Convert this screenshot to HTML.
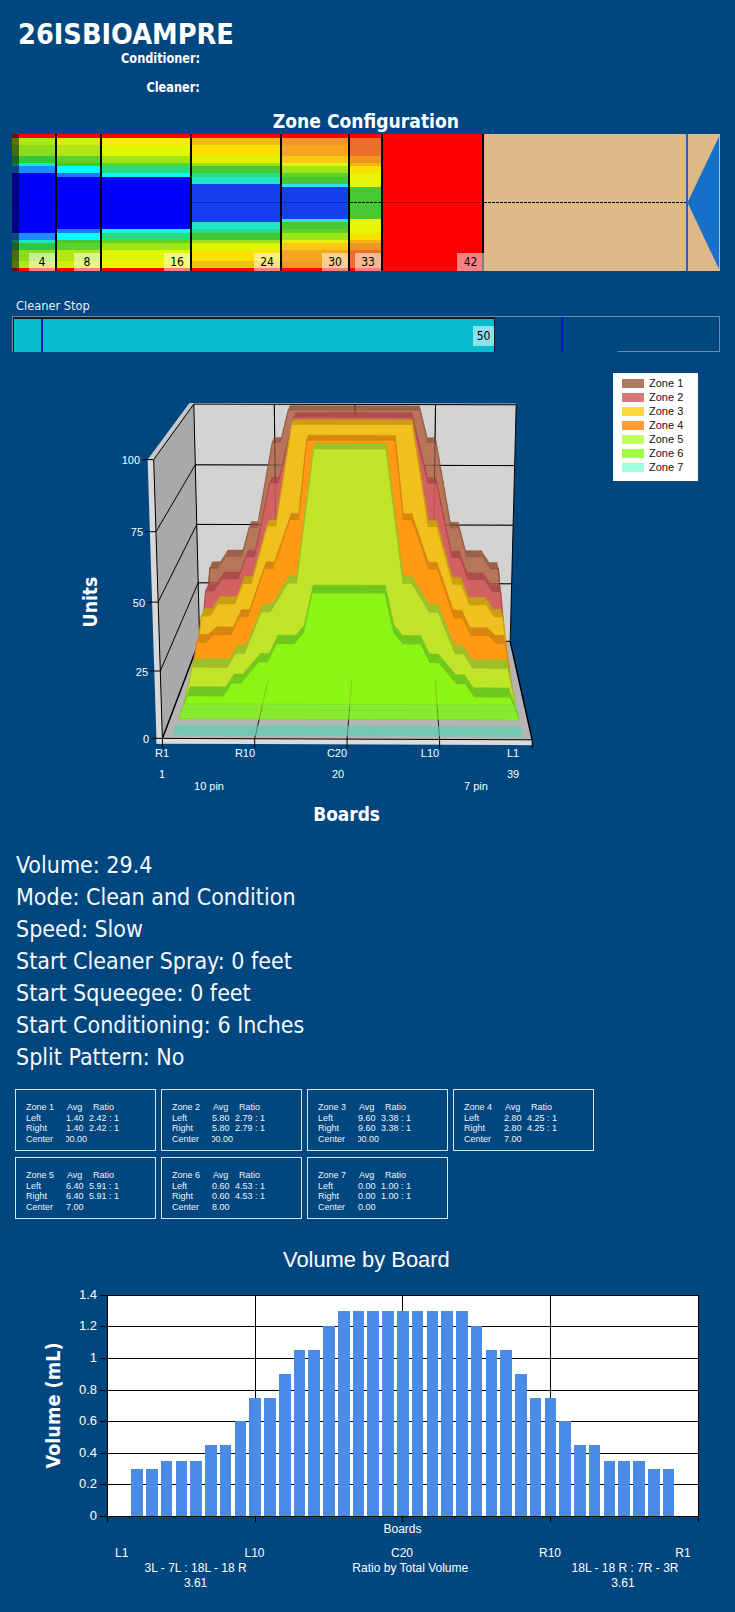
<!DOCTYPE html>
<html><head><meta charset="utf-8"><style>
html,body{margin:0;padding:0;background:#00467f;}
body{width:735px;height:1612px;position:relative;overflow:hidden;color:#fff;}
.t{position:absolute;white-space:nowrap;}
.tah{font-family:"DejaVu Sans Condensed","DejaVu Sans",sans-serif;font-stretch:condensed;}
.ar{font-family:"Liberation Sans",Arial,sans-serif;}
.hl{position:absolute;top:253px;width:26px;height:18px;background:rgba(255,255,255,0.5);color:#000;font:12px "DejaVu Sans Condensed","DejaVu Sans",sans-serif;font-stretch:condensed;line-height:19px;text-align:center;}
.yl{position:absolute;left:40px;width:57px;text-align:right;font:13px "Liberation Sans",sans-serif;line-height:16px;color:#fff;}
.yl3{position:absolute;width:40px;text-align:right;font:11.8px "Liberation Sans",sans-serif;line-height:14px;color:#fff;transform:scaleX(0.93);transform-origin:100% 50%;}
.zt{position:absolute;width:139px;height:60px;border:1px solid #d8e4f0;font:9px "Liberation Sans",sans-serif;color:#eef4fa;}
.zt .ln{position:absolute;left:0;width:139px;height:10.1px;overflow:hidden;line-height:11px;}
.zt span{position:absolute;top:0;}
.c0{left:10px} .c1{left:51px} .c2{left:77px} .v1{left:50px} .v2{left:73px}
.clipv{left:50px;width:22px;height:11px;overflow:hidden;}
.clipv span{right:1px;}
.info{position:absolute;left:16px;font:23px "DejaVu Sans Condensed","DejaVu Sans",sans-serif;font-stretch:condensed;color:#f4f8fc;line-height:32px;white-space:nowrap;}
</style></head><body>
<div class="t tah" style="left:18px;top:16.3px;font-size:28.6px;font-weight:bold;line-height:36px">26ISBIOAMPRE</div>
<div class="t tah" style="right:535.3px;top:50px;font-size:13.4px;font-weight:bold;line-height:18px;transform:scaleX(0.94);transform-origin:100% 50%">Conditioner:</div>
<div class="t tah" style="right:535.3px;top:78.8px;font-size:13.4px;font-weight:bold;line-height:18px;transform:scaleX(0.94);transform-origin:100% 50%">Cleaner:</div>
<div class="t tah" style="left:272.8px;top:110.1px;font-size:19.1px;font-weight:bold;line-height:24px">Zone Configuration</div>
<svg style="position:absolute;left:0;top:0" width="735" height="300" viewBox="0 0 735 300" shape-rendering="crispEdges"><rect x="12" y="134.00" width="7" height="4.00" fill="#800000"/><rect x="12" y="138.00" width="7" height="7.00" fill="#5a730a"/><rect x="12" y="145.00" width="7" height="11.00" fill="#466e0f"/><rect x="12" y="156.00" width="7" height="7.00" fill="#19641e"/><rect x="12" y="163.00" width="7" height="3.00" fill="#0f7364"/><rect x="12" y="166.00" width="7" height="7.00" fill="#0f4680"/><rect x="12" y="173.00" width="7" height="60.00" fill="#000080"/><rect x="12" y="233.00" width="7" height="7.00" fill="#0f4680"/><rect x="12" y="240.00" width="7" height="3.00" fill="#0f7364"/><rect x="12" y="243.00" width="7" height="7.00" fill="#19641e"/><rect x="12" y="250.00" width="7" height="11.00" fill="#466e0f"/><rect x="12" y="261.00" width="7" height="7.00" fill="#5a730a"/><rect x="12" y="268.00" width="7" height="3.00" fill="#800000"/><rect x="19" y="134.00" width="36" height="4.00" fill="#ff0000"/><rect x="19" y="138.00" width="36" height="7.00" fill="#b4e614"/><rect x="19" y="145.00" width="36" height="11.00" fill="#8cdc1e"/><rect x="19" y="156.00" width="36" height="7.00" fill="#32c83c"/><rect x="19" y="163.00" width="36" height="3.00" fill="#1ee6c8"/><rect x="19" y="166.00" width="36" height="7.00" fill="#1e8cff"/><rect x="19" y="173.00" width="36" height="60.00" fill="#0000ff"/><rect x="19" y="233.00" width="36" height="7.00" fill="#1e8cff"/><rect x="19" y="240.00" width="36" height="3.00" fill="#1ee6c8"/><rect x="19" y="243.00" width="36" height="7.00" fill="#32c83c"/><rect x="19" y="250.00" width="36" height="11.00" fill="#8cdc1e"/><rect x="19" y="261.00" width="36" height="7.00" fill="#b4e614"/><rect x="19" y="268.00" width="36" height="3.00" fill="#ff0000"/><rect x="57" y="134.00" width="43" height="4.00" fill="#ff0000"/><rect x="57" y="138.00" width="43" height="7.00" fill="#d2f00a"/><rect x="57" y="145.00" width="43" height="11.00" fill="#b4e614"/><rect x="57" y="156.00" width="43" height="7.00" fill="#5ad228"/><rect x="57" y="163.00" width="43" height="3.00" fill="#46c832"/><rect x="57" y="166.00" width="43" height="7.00" fill="#00ffff"/><rect x="57" y="173.00" width="43" height="4.00" fill="#1e78ff"/><rect x="57" y="177.00" width="43" height="52.00" fill="#0000ff"/><rect x="57" y="229.00" width="43" height="4.00" fill="#1e78ff"/><rect x="57" y="233.00" width="43" height="7.00" fill="#00ffff"/><rect x="57" y="240.00" width="43" height="3.00" fill="#46c832"/><rect x="57" y="243.00" width="43" height="7.00" fill="#5ad228"/><rect x="57" y="250.00" width="43" height="11.00" fill="#b4e614"/><rect x="57" y="261.00" width="43" height="7.00" fill="#d2f00a"/><rect x="57" y="268.00" width="43" height="3.00" fill="#ff0000"/><rect x="102" y="134.00" width="88" height="4.00" fill="#ff0000"/><rect x="102" y="138.00" width="88" height="7.00" fill="#f5f000"/><rect x="102" y="145.00" width="88" height="11.00" fill="#e1f500"/><rect x="102" y="156.00" width="88" height="7.00" fill="#a0e614"/><rect x="102" y="163.00" width="88" height="3.00" fill="#5ad228"/><rect x="102" y="166.00" width="88" height="7.00" fill="#28dc82"/><rect x="102" y="173.00" width="88" height="4.00" fill="#1ef0f0"/><rect x="102" y="177.00" width="88" height="52.00" fill="#0000ff"/><rect x="102" y="229.00" width="88" height="4.00" fill="#1ef0f0"/><rect x="102" y="233.00" width="88" height="7.00" fill="#28dc82"/><rect x="102" y="240.00" width="88" height="3.00" fill="#5ad228"/><rect x="102" y="243.00" width="88" height="7.00" fill="#a0e614"/><rect x="102" y="250.00" width="88" height="11.00" fill="#e1f500"/><rect x="102" y="261.00" width="88" height="7.00" fill="#f5f000"/><rect x="102" y="268.00" width="88" height="3.00" fill="#ff0000"/><rect x="192" y="134.00" width="88" height="4.00" fill="#ff0000"/><rect x="192" y="138.00" width="88" height="7.00" fill="#f0c014"/><rect x="192" y="145.00" width="88" height="11.00" fill="#fae100"/><rect x="192" y="156.00" width="88" height="7.00" fill="#e1f500"/><rect x="192" y="163.00" width="88" height="3.00" fill="#a0dc1e"/><rect x="192" y="166.00" width="88" height="7.00" fill="#46c832"/><rect x="192" y="173.00" width="88" height="4.00" fill="#28dc82"/><rect x="192" y="177.00" width="88" height="7.00" fill="#1ee6c8"/><rect x="192" y="184.00" width="88" height="38.00" fill="#1440f0"/><rect x="192" y="222.00" width="88" height="7.00" fill="#1ee6c8"/><rect x="192" y="229.00" width="88" height="4.00" fill="#28dc82"/><rect x="192" y="233.00" width="88" height="7.00" fill="#46c832"/><rect x="192" y="240.00" width="88" height="3.00" fill="#a0dc1e"/><rect x="192" y="243.00" width="88" height="7.00" fill="#e1f500"/><rect x="192" y="250.00" width="88" height="11.00" fill="#fae100"/><rect x="192" y="261.00" width="88" height="7.00" fill="#f0c014"/><rect x="192" y="268.00" width="88" height="3.00" fill="#ff0000"/><rect x="282" y="134.00" width="66" height="4.00" fill="#ff0000"/><rect x="282" y="138.00" width="66" height="7.00" fill="#f0962a"/><rect x="282" y="145.00" width="66" height="11.00" fill="#f5a51e"/><rect x="282" y="156.00" width="66" height="7.00" fill="#fac814"/><rect x="282" y="163.00" width="66" height="3.00" fill="#e6f00a"/><rect x="282" y="166.00" width="66" height="7.00" fill="#a0e614"/><rect x="282" y="173.00" width="66" height="4.00" fill="#5ad228"/><rect x="282" y="177.00" width="66" height="7.00" fill="#46c832"/><rect x="282" y="184.00" width="66" height="3.00" fill="#28e6e6"/><rect x="282" y="187.00" width="66" height="32.00" fill="#1440f0"/><rect x="282" y="219.00" width="66" height="3.00" fill="#28e6e6"/><rect x="282" y="222.00" width="66" height="7.00" fill="#46c832"/><rect x="282" y="229.00" width="66" height="4.00" fill="#5ad228"/><rect x="282" y="233.00" width="66" height="7.00" fill="#a0e614"/><rect x="282" y="240.00" width="66" height="3.00" fill="#e6f00a"/><rect x="282" y="243.00" width="66" height="7.00" fill="#fac814"/><rect x="282" y="250.00" width="66" height="11.00" fill="#f5a51e"/><rect x="282" y="261.00" width="66" height="7.00" fill="#f0962a"/><rect x="282" y="268.00" width="66" height="3.00" fill="#ff0000"/><rect x="350" y="134.00" width="31" height="4.00" fill="#ff0000"/><rect x="350" y="138.00" width="31" height="18.00" fill="#eb6e2d"/><rect x="350" y="156.00" width="31" height="7.00" fill="#f0961e"/><rect x="350" y="163.00" width="31" height="3.00" fill="#f5b414"/><rect x="350" y="166.00" width="31" height="7.00" fill="#fae100"/><rect x="350" y="173.00" width="31" height="14.00" fill="#e6f50a"/><rect x="350" y="187.00" width="31" height="32.00" fill="#46c832"/><rect x="350" y="219.00" width="31" height="14.00" fill="#e6f50a"/><rect x="350" y="233.00" width="31" height="7.00" fill="#fae100"/><rect x="350" y="240.00" width="31" height="3.00" fill="#f5b414"/><rect x="350" y="243.00" width="31" height="7.00" fill="#f0961e"/><rect x="350" y="250.00" width="31" height="18.00" fill="#eb6e2d"/><rect x="350" y="268.00" width="31" height="3.00" fill="#ff0000"/><rect x="383" y="134.00" width="99" height="137.00" fill="#ff0000"/><rect x="55" y="134" width="2" height="137" fill="#000"/><rect x="100" y="134" width="2" height="137" fill="#000"/><rect x="190" y="134" width="2" height="137" fill="#000"/><rect x="280" y="134" width="2" height="137" fill="#000"/><rect x="348" y="134" width="2" height="137" fill="#000"/><rect x="381" y="134" width="2" height="137" fill="#000"/><rect x="482" y="134" width="2" height="137" fill="#000"/><rect x="484" y="134" width="202" height="137" fill="#deb887"/><rect x="688" y="134" width="32" height="137" fill="#deb887"/><rect x="686" y="134" width="2" height="137" fill="#1d68b8"/></svg><svg style="position:absolute;left:0;top:0" width="735" height="300" viewBox="0 0 735 300"><polygon points="687.5,202.5 719,136.5 719,269" fill="#1470c8"/><line x1="12" y1="202.5" x2="192" y2="202.5" stroke="rgba(0,0,60,0.35)" stroke-width="1" stroke-dasharray="3,1" shape-rendering="crispEdges"/><line x1="192" y1="202.5" x2="350" y2="202.5" stroke="rgba(0,0,40,0.5)" stroke-width="1" stroke-dasharray="3,1" shape-rendering="crispEdges"/><line x1="350" y1="202.5" x2="383" y2="202.5" stroke="#000" stroke-width="1" stroke-dasharray="3,1" shape-rendering="crispEdges"/><line x1="383" y1="202.5" x2="484" y2="202.5" stroke="rgba(60,0,0,0.6)" stroke-width="1" stroke-dasharray="3,1" shape-rendering="crispEdges"/><line x1="484" y1="202.5" x2="686" y2="202.5" stroke="#000" stroke-width="1" stroke-dasharray="3,1" shape-rendering="crispEdges"/></svg>
<div class="hl" style="left:29px;width:26px">4</div><div class="hl" style="left:74px;width:26px">8</div><div class="hl" style="left:164px;width:26px">16</div><div class="hl" style="left:254px;width:26px">24</div><div class="hl" style="left:322px;width:26px">30</div><div class="hl" style="left:355px;width:26px">33</div><div class="hl" style="left:457px;width:27px">42</div>
<div class="t tah" style="left:16px;top:298.2px;font-size:12.7px;line-height:16px;color:#e8f0f8">Cleaner Stop</div>
<div style="position:absolute;left:12px;top:316px;width:708px;height:36px;box-sizing:border-box;border-top:1px solid #6d8aa6;border-left:1px solid #6d8aa6;border-right:1px solid #6d8aa6;"></div>
<div style="position:absolute;left:618px;top:351px;width:102px;height:1px;background:#6d8aa6"></div>
<div style="position:absolute;left:13px;top:317px;width:482px;height:2px;background:#1a1a1a"></div>
<div style="position:absolute;left:13px;top:317px;width:1px;height:35px;background:#1a1a1a"></div>
<div style="position:absolute;left:14px;top:319px;width:480px;height:33px;background:#08bcd0"></div>
<div style="position:absolute;left:494px;top:319px;width:1px;height:33px;background:#1a1a1a"></div>
<div style="position:absolute;left:41px;top:319px;width:2px;height:33px;background:#0a14c8"></div>
<div style="position:absolute;left:561px;top:317px;width:2px;height:35px;background:#0a14c8"></div>
<div style="position:absolute;left:473px;top:326px;width:21px;height:20px;background:#8ae0ec;color:#000;font:12px 'DejaVu Sans Condensed','DejaVu Sans',sans-serif;font-stretch:condensed;line-height:20px;text-align:center">50</div>
<svg style="position:absolute;left:0;top:0" width="735" height="860" viewBox="0 0 735 860"><polygon points="156.6,743.7 162.5,743.7 153.7,459.6 147.6,459.6" fill="#d8d8d8" /><polygon points="147.6,459.6 153.7,459.6 193.8,404.1 188.7,404.1" fill="#c8c8c8" /><polygon points="199.6,640.3 510.2,641.3 516.2,404.8 193.8,404.1" fill="#d3d3d3" /><polygon points="188.7,404.1 516.2,404.8 515.7,403.6 189.5,402.9" fill="#c9c9c9" /><polygon points="162.4,738.4 199.6,640.3 193.8,404.1 153.7,459.6" fill="#a9a9a9" /><polygon points="162.4,738.4 532.2,739.8 510.2,641.3 199.6,640.3" fill="#b5b5b5" /><polygon points="156.6,743.7 532.0,745.2 532.2,739.8 156.5,738.4" fill="#dcdcdc" /><line x1="198.2" y1="582.8" x2="511.7" y2="583.8" stroke="#000" stroke-width="1"/><line x1="160.3" y1="671.0" x2="198.2" y2="582.8" stroke="#000" stroke-width="1"/><line x1="196.8" y1="524.4" x2="513.1" y2="525.2" stroke="#000" stroke-width="1"/><line x1="158.1" y1="602.1" x2="196.8" y2="524.4" stroke="#000" stroke-width="1"/><line x1="195.3" y1="464.8" x2="514.7" y2="465.6" stroke="#000" stroke-width="1"/><line x1="156.0" y1="531.7" x2="195.3" y2="464.8" stroke="#000" stroke-width="1"/><line x1="277.2" y1="640.5" x2="274.3" y2="404.2" stroke="#000" stroke-width="1"/><line x1="254.7" y1="738.8" x2="277.2" y2="640.5" stroke="#333" stroke-width="1"/><line x1="354.8" y1="640.8" x2="354.9" y2="404.4" stroke="#000" stroke-width="1"/><line x1="347.1" y1="739.1" x2="354.8" y2="640.8" stroke="#333" stroke-width="1"/><line x1="432.5" y1="641.0" x2="435.5" y2="404.6" stroke="#000" stroke-width="1"/><line x1="439.6" y1="739.5" x2="432.5" y2="641.0" stroke="#333" stroke-width="1"/><line x1="193.8" y1="404.1" x2="516.2" y2="404.8" stroke="#000" stroke-width="1"/><line x1="199.6" y1="640.3" x2="510.2" y2="641.3" stroke="#000" stroke-width="1"/><line x1="516.2" y1="404.8" x2="510.2" y2="641.3" stroke="#000" stroke-width="1"/><line x1="193.8" y1="404.1" x2="199.6" y2="640.3" stroke="#000" stroke-width="1"/><line x1="162.4" y1="738.4" x2="199.6" y2="640.3" stroke="#000" stroke-width="1.5"/><line x1="532.2" y1="739.8" x2="510.2" y2="641.3" stroke="#000" stroke-width="1.5"/><line x1="162.4" y1="738.4" x2="532.2" y2="739.8" stroke="#000" stroke-width="1"/><line x1="153.7" y1="459.6" x2="162.4" y2="738.4" stroke="#000" stroke-width="1"/><line x1="153.7" y1="459.6" x2="193.8" y2="404.1" stroke="#000" stroke-width="1"/><line x1="151.4" y1="738.4" x2="162.4" y2="738.4" stroke="#000" stroke-width="1"/><line x1="149.3" y1="671.0" x2="160.3" y2="671.0" stroke="#000" stroke-width="1"/><line x1="147.1" y1="602.1" x2="158.1" y2="602.1" stroke="#000" stroke-width="1"/><line x1="145.0" y1="531.7" x2="156.0" y2="531.7" stroke="#000" stroke-width="1"/><line x1="142.7" y1="459.6" x2="153.7" y2="459.6" stroke="#000" stroke-width="1"/><line x1="162.4" y1="738.4" x2="162.4" y2="747.4" stroke="#000" stroke-width="1"/><line x1="254.7" y1="738.8" x2="254.7" y2="747.8" stroke="#000" stroke-width="1"/><line x1="347.1" y1="739.1" x2="347.1" y2="748.1" stroke="#000" stroke-width="1"/><line x1="439.6" y1="739.5" x2="439.6" y2="748.5" stroke="#000" stroke-width="1"/><line x1="532.2" y1="739.8" x2="532.2" y2="748.8" stroke="#000" stroke-width="1"/><polygon points="209.9,567.8 217.9,567.9 220.4,561.7 212.5,561.7" fill="#9d6048" stroke="#9d6048" stroke-width="0.5"/><polygon points="217.9,567.9 225.7,556.0 228.0,550.0 220.4,561.7" fill="#9d6048" stroke="#9d6048" stroke-width="0.5"/><polygon points="225.7,556.0 233.7,556.0 236.0,550.0 228.0,550.0" fill="#9d6048" stroke="#9d6048" stroke-width="0.5"/><polygon points="233.7,556.0 241.7,556.0 243.9,550.0 236.0,550.0" fill="#9d6048" stroke="#9d6048" stroke-width="0.5"/><polygon points="249.3,527.3 257.3,527.3 259.3,521.7 251.3,521.6" fill="#9d6048" stroke="#9d6048" stroke-width="0.5"/><polygon points="272.4,442.0 280.6,442.0 282.2,437.5 274.1,437.4" fill="#9d6048" stroke="#9d6048" stroke-width="0.5"/><polygon points="288.4,409.7 296.6,409.7 298.0,405.6 289.9,405.6" fill="#9d6048" stroke="#9d6048" stroke-width="0.5"/><polygon points="296.6,409.7 304.8,409.7 306.1,405.6 298.0,405.6" fill="#9d6048" stroke="#9d6048" stroke-width="0.5"/><polygon points="304.8,409.7 313.0,409.7 314.2,405.7 306.1,405.6" fill="#9d6048" stroke="#9d6048" stroke-width="0.5"/><polygon points="313.0,409.7 321.3,409.7 322.3,405.7 314.2,405.7" fill="#9d6048" stroke="#9d6048" stroke-width="0.5"/><polygon points="321.3,409.7 329.5,409.8 330.4,405.7 322.3,405.7" fill="#9d6048" stroke="#9d6048" stroke-width="0.5"/><polygon points="329.5,409.8 337.7,409.8 338.5,405.7 330.4,405.7" fill="#9d6048" stroke="#9d6048" stroke-width="0.5"/><polygon points="337.7,409.8 345.9,409.8 346.6,405.7 338.5,405.7" fill="#9d6048" stroke="#9d6048" stroke-width="0.5"/><polygon points="345.9,409.8 354.1,409.8 354.7,405.7 346.6,405.7" fill="#9d6048" stroke="#9d6048" stroke-width="0.5"/><polygon points="354.1,409.8 362.3,409.8 362.8,405.8 354.7,405.7" fill="#9d6048" stroke="#9d6048" stroke-width="0.5"/><polygon points="362.3,409.8 370.5,409.9 370.9,405.8 362.8,405.8" fill="#9d6048" stroke="#9d6048" stroke-width="0.5"/><polygon points="370.5,409.9 378.8,409.9 379.0,405.8 370.9,405.8" fill="#9d6048" stroke="#9d6048" stroke-width="0.5"/><polygon points="378.8,409.9 387.0,409.9 387.1,405.8 379.0,405.8" fill="#9d6048" stroke="#9d6048" stroke-width="0.5"/><polygon points="387.0,409.9 395.2,409.9 395.2,405.8 387.1,405.8" fill="#9d6048" stroke="#9d6048" stroke-width="0.5"/><polygon points="395.2,409.9 403.4,409.9 403.3,405.8 395.2,405.8" fill="#9d6048" stroke="#9d6048" stroke-width="0.5"/><polygon points="403.4,409.9 411.6,409.9 411.4,405.9 403.3,405.8" fill="#9d6048" stroke="#9d6048" stroke-width="0.5"/><polygon points="411.6,409.9 419.9,410.0 419.5,405.9 411.4,405.9" fill="#9d6048" stroke="#9d6048" stroke-width="0.5"/><polygon points="419.9,410.0 427.7,442.3 427.2,437.8 419.5,405.9" fill="#9d6048" stroke="#9d6048" stroke-width="0.5"/><polygon points="427.7,442.3 435.9,442.3 435.3,437.8 427.2,437.8" fill="#9d6048" stroke="#9d6048" stroke-width="0.5"/><polygon points="435.9,442.3 443.4,485.4 442.8,480.3 435.3,437.8" fill="#9d6048" stroke="#9d6048" stroke-width="0.5"/><polygon points="443.4,485.4 450.9,527.8 450.1,522.2 442.8,480.3" fill="#9d6048" stroke="#9d6048" stroke-width="0.5"/><polygon points="450.9,527.8 459.0,527.9 458.1,522.2 450.1,522.2" fill="#9d6048" stroke="#9d6048" stroke-width="0.5"/><polygon points="459.0,527.9 466.5,556.7 465.5,550.6 458.1,522.2" fill="#9d6048" stroke="#9d6048" stroke-width="0.5"/><polygon points="466.5,556.7 474.6,556.7 473.5,550.7 465.5,550.6" fill="#9d6048" stroke="#9d6048" stroke-width="0.5"/><polygon points="474.6,556.7 482.6,556.7 481.4,550.7 473.5,550.7" fill="#9d6048" stroke="#9d6048" stroke-width="0.5"/><polygon points="482.6,556.7 490.4,568.7 489.1,562.5 481.4,550.7" fill="#9d6048" stroke="#9d6048" stroke-width="0.5"/><polygon points="490.4,568.7 498.4,568.7 497.0,562.5 489.1,562.5" fill="#9d6048" stroke="#9d6048" stroke-width="0.5"/><polygon points="203.9,649.9 209.9,567.8 217.9,567.9 225.7,556.0 233.7,556.0 241.7,556.0 249.3,527.3 257.3,527.3 264.8,484.9 272.4,442.0 280.6,442.0 288.4,409.7 296.6,409.7 304.8,409.7 313.0,409.7 321.3,409.7 329.5,409.8 337.7,409.8 345.9,409.8 354.1,409.8 362.3,409.8 370.5,409.9 378.8,409.9 387.0,409.9 395.2,409.9 403.4,409.9 411.6,409.9 419.9,410.0 427.7,442.3 435.9,442.3 443.4,485.4 450.9,527.8 459.0,527.9 466.5,556.7 474.6,556.7 482.6,556.7 490.4,568.7 498.4,568.7 504.4,650.9 504.4,650.9 203.9,649.9" fill="#b67659" /><polyline points="203.9,649.9 209.9,567.8 217.9,567.9 225.7,556.0 233.7,556.0 241.7,556.0 249.3,527.3 257.3,527.3 264.8,484.9 272.4,442.0 280.6,442.0 288.4,409.7 296.6,409.7 304.8,409.7 313.0,409.7 321.3,409.7 329.5,409.8 337.7,409.8 345.9,409.8 354.1,409.8 362.3,409.8 370.5,409.9 378.8,409.9 387.0,409.9 395.2,409.9 403.4,409.9 411.6,409.9 419.9,410.0 427.7,442.3 435.9,442.3 443.4,485.4 450.9,527.8 459.0,527.9 466.5,556.7 474.6,556.7 482.6,556.7 490.4,568.7 498.4,568.7 504.4,650.9" fill="none" stroke="#9d6048" stroke-width="1.3" stroke-linejoin="round"/><polyline points="203.9,649.9 209.9,567.8 217.9,567.9" fill="none" stroke="#8e5236" stroke-width="1" /><polyline points="490.4,568.7 498.4,568.7 504.4,650.9" fill="none" stroke="#8e5236" stroke-width="1" /><line x1="198.2" y1="582.8" x2="511.7" y2="583.8" stroke="rgba(0,0,0,0.3)" stroke-width="1"/><line x1="196.8" y1="524.4" x2="513.1" y2="525.2" stroke="rgba(0,0,0,0.3)" stroke-width="1"/><line x1="195.3" y1="464.8" x2="514.7" y2="465.6" stroke="rgba(0,0,0,0.3)" stroke-width="1"/><line x1="277.2" y1="640.5" x2="274.3" y2="404.2" stroke="rgba(0,0,0,0.3)" stroke-width="1"/><line x1="354.8" y1="640.8" x2="354.9" y2="404.4" stroke="rgba(0,0,0,0.3)" stroke-width="1"/><line x1="432.5" y1="641.0" x2="435.5" y2="404.6" stroke="rgba(0,0,0,0.3)" stroke-width="1"/><polygon points="205.7,590.7 213.9,590.7 216.5,584.0 208.4,584.0" fill="#b04c4c" stroke="#b04c4c" stroke-width="0.5"/><polygon points="213.9,590.7 221.8,578.6 224.3,572.1 216.5,584.0" fill="#b04c4c" stroke="#b04c4c" stroke-width="0.5"/><polygon points="221.8,578.6 230.0,578.6 232.4,572.1 224.3,572.1" fill="#b04c4c" stroke="#b04c4c" stroke-width="0.5"/><polygon points="230.0,578.6 238.2,578.6 240.5,572.1 232.4,572.1" fill="#b04c4c" stroke="#b04c4c" stroke-width="0.5"/><polygon points="238.2,578.6 246.1,556.7 248.2,550.5 240.5,572.1" fill="#b04c4c" stroke="#b04c4c" stroke-width="0.5"/><polygon points="246.1,556.7 254.3,556.7 256.3,550.5 248.2,550.5" fill="#b04c4c" stroke="#b04c4c" stroke-width="0.5"/><polygon points="269.8,482.5 278.1,482.5 279.8,477.3 271.6,477.3" fill="#b04c4c" stroke="#b04c4c" stroke-width="0.5"/><polygon points="294.2,416.7 302.6,416.8 303.9,412.5 295.7,412.5" fill="#b04c4c" stroke="#b04c4c" stroke-width="0.5"/><polygon points="302.6,416.8 311.0,416.8 312.2,412.5 303.9,412.5" fill="#b04c4c" stroke="#b04c4c" stroke-width="0.5"/><polygon points="311.0,416.8 319.4,416.8 320.5,412.5 312.2,412.5" fill="#b04c4c" stroke="#b04c4c" stroke-width="0.5"/><polygon points="319.4,416.8 327.8,416.8 328.8,412.5 320.5,412.5" fill="#b04c4c" stroke="#b04c4c" stroke-width="0.5"/><polygon points="327.8,416.8 336.3,416.8 337.1,412.6 328.8,412.5" fill="#b04c4c" stroke="#b04c4c" stroke-width="0.5"/><polygon points="336.3,416.8 344.7,416.9 345.4,412.6 337.1,412.6" fill="#b04c4c" stroke="#b04c4c" stroke-width="0.5"/><polygon points="344.7,416.9 353.1,416.9 353.7,412.6 345.4,412.6" fill="#b04c4c" stroke="#b04c4c" stroke-width="0.5"/><polygon points="353.1,416.9 361.5,416.9 362.0,412.6 353.7,412.6" fill="#b04c4c" stroke="#b04c4c" stroke-width="0.5"/><polygon points="361.5,416.9 369.9,416.9 370.3,412.6 362.0,412.6" fill="#b04c4c" stroke="#b04c4c" stroke-width="0.5"/><polygon points="369.9,416.9 378.4,416.9 378.6,412.7 370.3,412.6" fill="#b04c4c" stroke="#b04c4c" stroke-width="0.5"/><polygon points="378.4,416.9 386.8,416.9 386.9,412.7 378.6,412.7" fill="#b04c4c" stroke="#b04c4c" stroke-width="0.5"/><polygon points="386.8,416.9 395.2,417.0 395.2,412.7 386.9,412.7" fill="#b04c4c" stroke="#b04c4c" stroke-width="0.5"/><polygon points="395.2,417.0 403.6,417.0 403.5,412.7 395.2,412.7" fill="#b04c4c" stroke="#b04c4c" stroke-width="0.5"/><polygon points="403.6,417.0 412.0,417.0 411.8,412.7 403.5,412.7" fill="#b04c4c" stroke="#b04c4c" stroke-width="0.5"/><polygon points="412.0,417.0 420.1,450.1 419.8,445.4 411.8,412.7" fill="#b04c4c" stroke="#b04c4c" stroke-width="0.5"/><polygon points="420.1,450.1 428.1,482.9 427.6,477.7 419.8,445.4" fill="#b04c4c" stroke="#b04c4c" stroke-width="0.5"/><polygon points="428.1,482.9 436.5,482.9 435.8,477.7 427.6,477.7" fill="#b04c4c" stroke="#b04c4c" stroke-width="0.5"/><polygon points="436.5,482.9 444.2,520.3 443.5,514.6 435.8,477.7" fill="#b04c4c" stroke="#b04c4c" stroke-width="0.5"/><polygon points="444.2,520.3 452.0,557.3 451.1,551.1 443.5,514.6" fill="#b04c4c" stroke="#b04c4c" stroke-width="0.5"/><polygon points="452.0,557.3 460.2,557.3 459.3,551.1 451.1,551.1" fill="#b04c4c" stroke="#b04c4c" stroke-width="0.5"/><polygon points="460.2,557.3 468.0,579.3 467.0,572.8 459.3,551.1" fill="#b04c4c" stroke="#b04c4c" stroke-width="0.5"/><polygon points="468.0,579.3 476.3,579.4 475.1,572.9 467.0,572.8" fill="#b04c4c" stroke="#b04c4c" stroke-width="0.5"/><polygon points="476.3,579.4 484.5,579.4 483.2,572.9 475.1,572.9" fill="#b04c4c" stroke="#b04c4c" stroke-width="0.5"/><polygon points="484.5,579.4 492.4,591.5 491.0,584.9 483.2,572.9" fill="#b04c4c" stroke="#b04c4c" stroke-width="0.5"/><polygon points="492.4,591.5 500.6,591.6 499.1,584.9 491.0,584.9" fill="#b04c4c" stroke="#b04c4c" stroke-width="0.5"/><polygon points="199.3,662.4 205.7,590.7 213.9,590.7 221.8,578.6 230.0,578.6 238.2,578.6 246.1,556.7 254.3,556.7 262.0,519.8 269.8,482.5 278.1,482.5 286.1,449.8 294.2,416.7 302.6,416.8 311.0,416.8 319.4,416.8 327.8,416.8 336.3,416.8 344.7,416.9 353.1,416.9 361.5,416.9 369.9,416.9 378.4,416.9 386.8,416.9 395.2,417.0 403.6,417.0 412.0,417.0 420.1,450.1 428.1,482.9 436.5,482.9 444.2,520.3 452.0,557.3 460.2,557.3 468.0,579.3 476.3,579.4 484.5,579.4 492.4,591.5 500.6,591.6 507.0,663.5 507.0,663.5 199.3,662.4" fill="#d26262" /><polyline points="199.3,662.4 205.7,590.7 213.9,590.7 221.8,578.6 230.0,578.6 238.2,578.6 246.1,556.7 254.3,556.7 262.0,519.8 269.8,482.5 278.1,482.5 286.1,449.8 294.2,416.7 302.6,416.8 311.0,416.8 319.4,416.8 327.8,416.8 336.3,416.8 344.7,416.9 353.1,416.9 361.5,416.9 369.9,416.9 378.4,416.9 386.8,416.9 395.2,417.0 403.6,417.0 412.0,417.0 420.1,450.1 428.1,482.9 436.5,482.9 444.2,520.3 452.0,557.3 460.2,557.3 468.0,579.3 476.3,579.4 484.5,579.4 492.4,591.5 500.6,591.6 507.0,663.5" fill="none" stroke="#b04c4c" stroke-width="1.3" stroke-linejoin="round"/><line x1="277.2" y1="640.5" x2="274.3" y2="404.2" stroke="rgba(0,0,0,0.15)" stroke-width="1"/><line x1="354.8" y1="640.8" x2="354.9" y2="404.4" stroke="rgba(0,0,0,0.15)" stroke-width="1"/><line x1="432.5" y1="641.0" x2="435.5" y2="404.6" stroke="rgba(0,0,0,0.15)" stroke-width="1"/><polygon points="201.4,615.7 209.7,615.8 212.4,608.6 204.2,608.6" fill="#c9a010" stroke="#c9a010" stroke-width="0.5"/><polygon points="209.7,615.8 217.8,603.7 220.4,596.7 212.4,608.6" fill="#c9a010" stroke="#c9a010" stroke-width="0.5"/><polygon points="217.8,603.7 226.2,603.7 228.7,596.7 220.4,596.7" fill="#c9a010" stroke="#c9a010" stroke-width="0.5"/><polygon points="226.2,603.7 234.6,603.7 236.9,596.8 228.7,596.7" fill="#c9a010" stroke="#c9a010" stroke-width="0.5"/><polygon points="234.6,603.7 242.6,583.4 244.9,576.7 236.9,596.8" fill="#c9a010" stroke="#c9a010" stroke-width="0.5"/><polygon points="242.6,583.4 251.0,583.4 253.1,576.7 244.9,576.7" fill="#c9a010" stroke="#c9a010" stroke-width="0.5"/><polygon points="267.1,525.9 275.6,525.9 277.3,520.0 269.0,520.0" fill="#c9a010" stroke="#c9a010" stroke-width="0.5"/><polygon points="291.6,424.2 300.2,424.2 301.7,419.7 293.2,419.7" fill="#c9a010" stroke="#c9a010" stroke-width="0.5"/><polygon points="300.2,424.2 308.9,424.2 310.2,419.7 301.7,419.7" fill="#c9a010" stroke="#c9a010" stroke-width="0.5"/><polygon points="308.9,424.2 317.5,424.2 318.7,419.7 310.2,419.7" fill="#c9a010" stroke="#c9a010" stroke-width="0.5"/><polygon points="317.5,424.2 326.1,424.2 327.2,419.7 318.7,419.7" fill="#c9a010" stroke="#c9a010" stroke-width="0.5"/><polygon points="326.1,424.2 334.8,424.3 335.7,419.8 327.2,419.7" fill="#c9a010" stroke="#c9a010" stroke-width="0.5"/><polygon points="334.8,424.3 343.4,424.3 344.2,419.8 335.7,419.8" fill="#c9a010" stroke="#c9a010" stroke-width="0.5"/><polygon points="343.4,424.3 352.0,424.3 352.7,419.8 344.2,419.8" fill="#c9a010" stroke="#c9a010" stroke-width="0.5"/><polygon points="352.0,424.3 360.7,424.3 361.2,419.8 352.7,419.8" fill="#c9a010" stroke="#c9a010" stroke-width="0.5"/><polygon points="360.7,424.3 369.3,424.3 369.7,419.8 361.2,419.8" fill="#c9a010" stroke="#c9a010" stroke-width="0.5"/><polygon points="369.3,424.3 377.9,424.4 378.2,419.9 369.7,419.8" fill="#c9a010" stroke="#c9a010" stroke-width="0.5"/><polygon points="377.9,424.4 386.6,424.4 386.7,419.9 378.2,419.9" fill="#c9a010" stroke="#c9a010" stroke-width="0.5"/><polygon points="386.6,424.4 395.2,424.4 395.2,419.9 386.7,419.9" fill="#c9a010" stroke="#c9a010" stroke-width="0.5"/><polygon points="395.2,424.4 403.8,424.4 403.7,419.9 395.2,419.9" fill="#c9a010" stroke="#c9a010" stroke-width="0.5"/><polygon points="403.8,424.4 412.5,424.4 412.2,419.9 403.7,419.9" fill="#c9a010" stroke="#c9a010" stroke-width="0.5"/><polygon points="412.5,424.4 420.6,476.5 420.2,471.2 412.2,419.9" fill="#c9a010" stroke="#c9a010" stroke-width="0.5"/><polygon points="420.6,476.5 428.5,526.4 428.0,520.4 420.2,471.2" fill="#c9a010" stroke="#c9a010" stroke-width="0.5"/><polygon points="428.5,526.4 437.0,526.4 436.4,520.5 428.0,520.4" fill="#c9a010" stroke="#c9a010" stroke-width="0.5"/><polygon points="437.0,526.4 445.1,555.5 444.4,549.1 436.4,520.5" fill="#c9a010" stroke="#c9a010" stroke-width="0.5"/><polygon points="445.1,555.5 453.1,584.1 452.3,577.3 444.4,549.1" fill="#c9a010" stroke="#c9a010" stroke-width="0.5"/><polygon points="453.1,584.1 461.5,584.1 460.6,577.4 452.3,577.3" fill="#c9a010" stroke="#c9a010" stroke-width="0.5"/><polygon points="461.5,584.1 469.6,604.5 468.5,597.5 460.6,577.4" fill="#c9a010" stroke="#c9a010" stroke-width="0.5"/><polygon points="469.6,604.5 478.0,604.5 476.8,597.5 468.5,597.5" fill="#c9a010" stroke="#c9a010" stroke-width="0.5"/><polygon points="478.0,604.5 486.4,604.5 485.1,597.5 476.8,597.5" fill="#c9a010" stroke="#c9a010" stroke-width="0.5"/><polygon points="486.4,604.5 494.5,616.7 493.1,609.5 485.1,597.5" fill="#c9a010" stroke="#c9a010" stroke-width="0.5"/><polygon points="494.5,616.7 502.9,616.7 501.3,609.5 493.1,609.5" fill="#c9a010" stroke="#c9a010" stroke-width="0.5"/><polygon points="194.5,675.5 201.4,615.7 209.7,615.8 217.8,603.7 226.2,603.7 234.6,603.7 242.6,583.4 251.0,583.4 259.0,554.9 267.1,525.9 275.6,525.9 283.5,476.1 291.6,424.2 300.2,424.2 308.9,424.2 317.5,424.2 326.1,424.2 334.8,424.3 343.4,424.3 352.0,424.3 360.7,424.3 369.3,424.3 377.9,424.4 386.6,424.4 395.2,424.4 403.8,424.4 412.5,424.4 420.6,476.5 428.5,526.4 437.0,526.4 445.1,555.5 453.1,584.1 461.5,584.1 469.6,604.5 478.0,604.5 486.4,604.5 494.5,616.7 502.9,616.7 509.8,676.6 509.8,676.6 194.5,675.5" fill="#f0c01e" /><polyline points="194.5,675.5 201.4,615.7 209.7,615.8 217.8,603.7 226.2,603.7 234.6,603.7 242.6,583.4 251.0,583.4 259.0,554.9 267.1,525.9 275.6,525.9 283.5,476.1 291.6,424.2 300.2,424.2 308.9,424.2 317.5,424.2 326.1,424.2 334.8,424.3 343.4,424.3 352.0,424.3 360.7,424.3 369.3,424.3 377.9,424.4 386.6,424.4 395.2,424.4 403.8,424.4 412.5,424.4 420.6,476.5 428.5,526.4 437.0,526.4 445.1,555.5 453.1,584.1 461.5,584.1 469.6,604.5 478.0,604.5 486.4,604.5 494.5,616.7 502.9,616.7 509.8,676.6" fill="none" stroke="#c9a010" stroke-width="1.3" stroke-linejoin="round"/><polygon points="196.8,642.0 205.4,642.0 208.2,634.3 199.8,634.3" fill="#d8860e" stroke="#d8860e" stroke-width="0.5"/><polygon points="205.4,642.0 213.8,634.5 216.5,626.9 208.2,634.3" fill="#d8860e" stroke="#d8860e" stroke-width="0.5"/><polygon points="213.8,634.5 222.3,634.5 224.9,626.9 216.5,626.9" fill="#d8860e" stroke="#d8860e" stroke-width="0.5"/><polygon points="222.3,634.5 230.9,634.6 233.3,627.0 224.9,626.9" fill="#d8860e" stroke="#d8860e" stroke-width="0.5"/><polygon points="230.9,634.6 239.1,616.9 241.5,609.6 233.3,627.0" fill="#d8860e" stroke="#d8860e" stroke-width="0.5"/><polygon points="239.1,616.9 247.7,616.9 249.9,609.6 241.5,609.6" fill="#d8860e" stroke="#d8860e" stroke-width="0.5"/><polygon points="247.7,616.9 256.0,592.8 258.1,585.8 249.9,609.6" fill="#d8860e" stroke="#d8860e" stroke-width="0.5"/><polygon points="256.0,592.8 264.3,568.5 266.2,561.8 258.1,585.8" fill="#d8860e" stroke="#d8860e" stroke-width="0.5"/><polygon points="264.3,568.5 272.9,568.5 274.8,561.9 266.2,561.8" fill="#d8860e" stroke="#d8860e" stroke-width="0.5"/><polygon points="272.9,568.5 281.3,544.0 283.0,537.7 274.8,561.9" fill="#d8860e" stroke="#d8860e" stroke-width="0.5"/><polygon points="281.3,544.0 289.8,519.4 291.4,513.4 283.0,537.7" fill="#d8860e" stroke="#d8860e" stroke-width="0.5"/><polygon points="289.8,519.4 298.5,519.4 300.0,513.4 291.4,513.4" fill="#d8860e" stroke="#d8860e" stroke-width="0.5"/><polygon points="306.7,440.0 315.5,440.1 316.7,435.2 308.0,435.2" fill="#d8860e" stroke="#d8860e" stroke-width="0.5"/><polygon points="315.5,440.1 324.4,440.1 325.4,435.2 316.7,435.2" fill="#d8860e" stroke="#d8860e" stroke-width="0.5"/><polygon points="324.4,440.1 333.2,440.1 334.2,435.3 325.4,435.2" fill="#d8860e" stroke="#d8860e" stroke-width="0.5"/><polygon points="333.2,440.1 342.1,440.1 342.9,435.3 334.2,435.3" fill="#d8860e" stroke="#d8860e" stroke-width="0.5"/><polygon points="342.1,440.1 350.9,440.1 351.6,435.3 342.9,435.3" fill="#d8860e" stroke="#d8860e" stroke-width="0.5"/><polygon points="350.9,440.1 359.7,440.2 360.3,435.3 351.6,435.3" fill="#d8860e" stroke="#d8860e" stroke-width="0.5"/><polygon points="359.7,440.2 368.6,440.2 369.0,435.3 360.3,435.3" fill="#d8860e" stroke="#d8860e" stroke-width="0.5"/><polygon points="368.6,440.2 377.4,440.2 377.7,435.4 369.0,435.3" fill="#d8860e" stroke="#d8860e" stroke-width="0.5"/><polygon points="377.4,440.2 386.3,440.2 386.4,435.4 377.7,435.4" fill="#d8860e" stroke="#d8860e" stroke-width="0.5"/><polygon points="386.3,440.2 395.2,440.3 395.1,435.4 386.4,435.4" fill="#d8860e" stroke="#d8860e" stroke-width="0.5"/><polygon points="395.2,440.3 403.4,519.7 403.2,513.7 395.1,435.4" fill="#d8860e" stroke="#d8860e" stroke-width="0.5"/><polygon points="403.4,519.7 412.1,519.7 411.8,513.7 403.2,513.7" fill="#d8860e" stroke="#d8860e" stroke-width="0.5"/><polygon points="412.1,519.7 420.6,544.4 420.2,538.1 411.8,513.7" fill="#d8860e" stroke="#d8860e" stroke-width="0.5"/><polygon points="420.6,544.4 429.0,569.0 428.5,562.3 420.2,538.1" fill="#d8860e" stroke="#d8860e" stroke-width="0.5"/><polygon points="429.0,569.0 437.7,569.0 437.0,562.3 428.5,562.3" fill="#d8860e" stroke="#d8860e" stroke-width="0.5"/><polygon points="437.7,569.0 446.0,593.4 445.2,586.4 437.0,562.3" fill="#d8860e" stroke="#d8860e" stroke-width="0.5"/><polygon points="446.0,593.4 454.2,617.6 453.3,610.2 445.2,586.4" fill="#d8860e" stroke="#d8860e" stroke-width="0.5"/><polygon points="454.2,617.6 462.8,617.6 461.8,610.3 453.3,610.2" fill="#d8860e" stroke="#d8860e" stroke-width="0.5"/><polygon points="462.8,617.6 471.1,635.4 470.0,627.7 461.8,610.3" fill="#d8860e" stroke="#d8860e" stroke-width="0.5"/><polygon points="471.1,635.4 479.7,635.4 478.4,627.8 470.0,627.7" fill="#d8860e" stroke="#d8860e" stroke-width="0.5"/><polygon points="479.7,635.4 488.3,635.4 486.9,627.8 478.4,627.8" fill="#d8860e" stroke="#d8860e" stroke-width="0.5"/><polygon points="488.3,635.4 496.7,643.0 495.2,635.3 486.9,627.8" fill="#d8860e" stroke="#d8860e" stroke-width="0.5"/><polygon points="496.7,643.0 505.3,643.0 503.7,635.3 495.2,635.3" fill="#d8860e" stroke="#d8860e" stroke-width="0.5"/><polygon points="189.5,689.3 196.8,642.0 205.4,642.0 213.8,634.5 222.3,634.5 230.9,634.6 239.1,616.9 247.7,616.9 256.0,592.8 264.3,568.5 272.9,568.5 281.3,544.0 289.8,519.4 298.5,519.4 306.7,440.0 315.5,440.1 324.4,440.1 333.2,440.1 342.1,440.1 350.9,440.1 359.7,440.2 368.6,440.2 377.4,440.2 386.3,440.2 395.2,440.3 403.4,519.7 412.1,519.7 420.6,544.4 429.0,569.0 437.7,569.0 446.0,593.4 454.2,617.6 462.8,617.6 471.1,635.4 479.7,635.4 488.3,635.4 496.7,643.0 505.3,643.0 512.6,690.5 512.6,690.5 189.5,689.3" fill="#ff9a12" /><polyline points="189.5,689.3 196.8,642.0 205.4,642.0 213.8,634.5 222.3,634.5 230.9,634.6 239.1,616.9 247.7,616.9 256.0,592.8 264.3,568.5 272.9,568.5 281.3,544.0 289.8,519.4 298.5,519.4 306.7,440.0 315.5,440.1 324.4,440.1 333.2,440.1 342.1,440.1 350.9,440.1 359.7,440.2 368.6,440.2 377.4,440.2 386.3,440.2 395.2,440.3 403.4,519.7 412.1,519.7 420.6,544.4 429.0,569.0 437.7,569.0 446.0,593.4 454.2,617.6 462.8,617.6 471.1,635.4 479.7,635.4 488.3,635.4 496.7,643.0 505.3,643.0 512.6,690.5" fill="none" stroke="#d8860e" stroke-width="1.3" stroke-linejoin="round"/><polygon points="192.0,666.9 200.7,666.9 203.7,658.7 195.1,658.6" fill="#9dbf28" stroke="#9dbf28" stroke-width="0.5"/><polygon points="200.7,666.9 209.5,667.0 212.3,658.7 203.7,658.7" fill="#9dbf28" stroke="#9dbf28" stroke-width="0.5"/><polygon points="209.5,667.0 218.3,667.0 221.0,658.7 212.3,658.7" fill="#9dbf28" stroke="#9dbf28" stroke-width="0.5"/><polygon points="218.3,667.0 227.0,667.0 229.6,658.8 221.0,658.7" fill="#9dbf28" stroke="#9dbf28" stroke-width="0.5"/><polygon points="227.0,667.0 235.5,652.9 238.0,644.9 229.6,658.8" fill="#9dbf28" stroke="#9dbf28" stroke-width="0.5"/><polygon points="235.5,652.9 244.3,653.0 246.6,644.9 238.0,644.9" fill="#9dbf28" stroke="#9dbf28" stroke-width="0.5"/><polygon points="244.3,653.0 252.8,632.3 254.9,624.6 246.6,644.9" fill="#9dbf28" stroke="#9dbf28" stroke-width="0.5"/><polygon points="252.8,632.3 261.3,611.6 263.3,604.1 254.9,624.6" fill="#9dbf28" stroke="#9dbf28" stroke-width="0.5"/><polygon points="261.3,611.6 270.1,611.6 272.0,604.1 263.3,604.1" fill="#9dbf28" stroke="#9dbf28" stroke-width="0.5"/><polygon points="270.1,611.6 278.8,597.3 280.6,590.0 272.0,604.1" fill="#9dbf28" stroke="#9dbf28" stroke-width="0.5"/><polygon points="278.8,597.3 287.5,582.9 289.2,575.8 280.6,590.0" fill="#9dbf28" stroke="#9dbf28" stroke-width="0.5"/><polygon points="287.5,582.9 296.4,582.9 297.9,575.8 289.2,575.8" fill="#9dbf28" stroke="#9dbf28" stroke-width="0.5"/><polygon points="313.4,448.5 322.5,448.5 323.6,443.4 314.7,443.4" fill="#9dbf28" stroke="#9dbf28" stroke-width="0.5"/><polygon points="322.5,448.5 331.5,448.5 332.6,443.4 323.6,443.4" fill="#9dbf28" stroke="#9dbf28" stroke-width="0.5"/><polygon points="331.5,448.5 340.6,448.6 341.5,443.4 332.6,443.4" fill="#9dbf28" stroke="#9dbf28" stroke-width="0.5"/><polygon points="340.6,448.6 349.7,448.6 350.4,443.5 341.5,443.4" fill="#9dbf28" stroke="#9dbf28" stroke-width="0.5"/><polygon points="349.7,448.6 358.8,448.6 359.4,443.5 350.4,443.5" fill="#9dbf28" stroke="#9dbf28" stroke-width="0.5"/><polygon points="358.8,448.6 367.9,448.6 368.3,443.5 359.4,443.5" fill="#9dbf28" stroke="#9dbf28" stroke-width="0.5"/><polygon points="367.9,448.6 377.0,448.6 377.3,443.5 368.3,443.5" fill="#9dbf28" stroke="#9dbf28" stroke-width="0.5"/><polygon points="377.0,448.6 386.1,448.7 386.2,443.6 377.3,443.5" fill="#9dbf28" stroke="#9dbf28" stroke-width="0.5"/><polygon points="386.1,448.7 394.7,516.6 394.7,510.5 386.2,443.6" fill="#9dbf28" stroke="#9dbf28" stroke-width="0.5"/><polygon points="394.7,516.6 403.1,583.2 403.0,576.1 394.7,510.5" fill="#9dbf28" stroke="#9dbf28" stroke-width="0.5"/><polygon points="403.1,583.2 412.0,583.2 411.8,576.1 403.0,576.1" fill="#9dbf28" stroke="#9dbf28" stroke-width="0.5"/><polygon points="412.0,583.2 420.8,597.7 420.4,590.4 411.8,576.1" fill="#9dbf28" stroke="#9dbf28" stroke-width="0.5"/><polygon points="420.8,597.7 429.5,612.1 429.0,604.6 420.4,590.4" fill="#9dbf28" stroke="#9dbf28" stroke-width="0.5"/><polygon points="429.5,612.1 438.3,612.2 437.7,604.6 429.0,604.6" fill="#9dbf28" stroke="#9dbf28" stroke-width="0.5"/><polygon points="438.3,612.2 446.9,633.0 446.1,625.2 437.7,604.6" fill="#9dbf28" stroke="#9dbf28" stroke-width="0.5"/><polygon points="446.9,633.0 455.4,653.7 454.5,645.6 446.1,625.2" fill="#9dbf28" stroke="#9dbf28" stroke-width="0.5"/><polygon points="455.4,653.7 464.2,653.7 463.1,645.6 454.5,645.6" fill="#9dbf28" stroke="#9dbf28" stroke-width="0.5"/><polygon points="464.2,653.7 472.7,667.9 471.5,659.6 463.1,645.6" fill="#9dbf28" stroke="#9dbf28" stroke-width="0.5"/><polygon points="472.7,667.9 481.5,667.9 480.2,659.6 471.5,659.6" fill="#9dbf28" stroke="#9dbf28" stroke-width="0.5"/><polygon points="481.5,667.9 490.3,668.0 488.8,659.7 480.2,659.6" fill="#9dbf28" stroke="#9dbf28" stroke-width="0.5"/><polygon points="490.3,668.0 499.1,668.0 497.5,659.7 488.8,659.7" fill="#9dbf28" stroke="#9dbf28" stroke-width="0.5"/><polygon points="499.1,668.0 507.9,668.0 506.1,659.7 497.5,659.7" fill="#9dbf28" stroke="#9dbf28" stroke-width="0.5"/><polygon points="507.9,668.0 515.7,705.0 513.8,696.2 506.1,659.7" fill="#9dbf28" stroke="#9dbf28" stroke-width="0.5"/><polygon points="184.2,703.8 192.0,666.9 200.7,666.9 209.5,667.0 218.3,667.0 227.0,667.0 235.5,652.9 244.3,653.0 252.8,632.3 261.3,611.6 270.1,611.6 278.8,597.3 287.5,582.9 296.4,582.9 304.8,516.4 313.4,448.5 322.5,448.5 331.5,448.5 340.6,448.6 349.7,448.6 358.8,448.6 367.9,448.6 377.0,448.6 386.1,448.7 394.7,516.6 403.1,583.2 412.0,583.2 420.8,597.7 429.5,612.1 438.3,612.2 446.9,633.0 455.4,653.7 464.2,653.7 472.7,667.9 481.5,667.9 490.3,668.0 499.1,668.0 507.9,668.0 515.7,705.0 515.7,705.0 184.2,703.8" fill="#c2e428" /><polyline points="184.2,703.8 192.0,666.9 200.7,666.9 209.5,667.0 218.3,667.0 227.0,667.0 235.5,652.9 244.3,653.0 252.8,632.3 261.3,611.6 270.1,611.6 278.8,597.3 287.5,582.9 296.4,582.9 304.8,516.4 313.4,448.5 322.5,448.5 331.5,448.5 340.6,448.6 349.7,448.6 358.8,448.6 367.9,448.6 377.0,448.6 386.1,448.7 394.7,516.6 403.1,583.2 412.0,583.2 420.8,597.7 429.5,612.1 438.3,612.2 446.9,633.0 455.4,653.7 464.2,653.7 472.7,667.9 481.5,667.9 490.3,668.0 499.1,668.0 507.9,668.0 515.7,705.0" fill="none" stroke="#9dbf28" stroke-width="1.3" stroke-linejoin="round"/><polygon points="187.0,695.7 195.9,695.7 199.1,686.8 190.2,686.7" fill="#70c81e" stroke="#70c81e" stroke-width="0.5"/><polygon points="195.9,695.7 204.9,695.7 207.9,686.8 199.1,686.8" fill="#70c81e" stroke="#70c81e" stroke-width="0.5"/><polygon points="204.9,695.7 213.9,695.8 216.7,686.8 207.9,686.8" fill="#70c81e" stroke="#70c81e" stroke-width="0.5"/><polygon points="213.9,695.8 222.9,695.8 225.6,686.9 216.7,686.8" fill="#70c81e" stroke="#70c81e" stroke-width="0.5"/><polygon points="222.9,695.8 231.6,682.7 234.1,674.0 225.6,686.9" fill="#70c81e" stroke="#70c81e" stroke-width="0.5"/><polygon points="231.6,682.7 240.6,682.8 243.0,674.0 234.1,674.0" fill="#70c81e" stroke="#70c81e" stroke-width="0.5"/><polygon points="240.6,682.8 249.4,672.3 251.7,663.7 243.0,674.0" fill="#70c81e" stroke="#70c81e" stroke-width="0.5"/><polygon points="249.4,672.3 258.3,661.8 260.4,653.4 251.7,663.7" fill="#70c81e" stroke="#70c81e" stroke-width="0.5"/><polygon points="258.3,661.8 267.3,661.8 269.3,653.4 260.4,653.4" fill="#70c81e" stroke="#70c81e" stroke-width="0.5"/><polygon points="267.3,661.8 276.1,643.3 278.0,635.1 269.3,653.4" fill="#70c81e" stroke="#70c81e" stroke-width="0.5"/><polygon points="276.1,643.3 285.1,643.3 286.9,635.2 278.0,635.1" fill="#70c81e" stroke="#70c81e" stroke-width="0.5"/><polygon points="285.1,643.3 294.2,643.4 295.8,635.2 286.9,635.2" fill="#70c81e" stroke="#70c81e" stroke-width="0.5"/><polygon points="294.2,643.4 303.2,632.8 304.6,624.7 295.8,635.2" fill="#70c81e" stroke="#70c81e" stroke-width="0.5"/><polygon points="303.2,632.8 312.0,592.6 313.3,585.1 304.6,624.7" fill="#70c81e" stroke="#70c81e" stroke-width="0.5"/><polygon points="312.0,592.6 321.1,592.6 322.3,585.2 313.3,585.1" fill="#70c81e" stroke="#70c81e" stroke-width="0.5"/><polygon points="321.1,592.6 330.3,592.6 331.3,585.2 322.3,585.2" fill="#70c81e" stroke="#70c81e" stroke-width="0.5"/><polygon points="330.3,592.6 339.4,592.6 340.3,585.2 331.3,585.2" fill="#70c81e" stroke="#70c81e" stroke-width="0.5"/><polygon points="339.4,592.6 348.5,592.7 349.3,585.2 340.3,585.2" fill="#70c81e" stroke="#70c81e" stroke-width="0.5"/><polygon points="348.5,592.7 357.7,592.7 358.3,585.3 349.3,585.2" fill="#70c81e" stroke="#70c81e" stroke-width="0.5"/><polygon points="357.7,592.7 366.8,592.7 367.3,585.3 358.3,585.3" fill="#70c81e" stroke="#70c81e" stroke-width="0.5"/><polygon points="366.8,592.7 376.0,592.8 376.3,585.3 367.3,585.3" fill="#70c81e" stroke="#70c81e" stroke-width="0.5"/><polygon points="376.0,592.8 385.1,592.8 385.3,585.3 376.3,585.3" fill="#70c81e" stroke="#70c81e" stroke-width="0.5"/><polygon points="385.1,592.8 394.0,633.1 394.0,625.0 385.3,585.3" fill="#70c81e" stroke="#70c81e" stroke-width="0.5"/><polygon points="394.0,633.1 403.0,643.7 402.8,635.6 394.0,625.0" fill="#70c81e" stroke="#70c81e" stroke-width="0.5"/><polygon points="403.0,643.7 412.0,643.8 411.8,635.6 402.8,635.6" fill="#70c81e" stroke="#70c81e" stroke-width="0.5"/><polygon points="412.0,643.8 421.1,643.8 420.7,635.6 411.8,635.6" fill="#70c81e" stroke="#70c81e" stroke-width="0.5"/><polygon points="421.1,643.8 429.9,662.4 429.4,653.9 420.7,635.6" fill="#70c81e" stroke="#70c81e" stroke-width="0.5"/><polygon points="429.9,662.4 439.0,662.4 438.3,654.0 429.4,653.9" fill="#70c81e" stroke="#70c81e" stroke-width="0.5"/><polygon points="439.0,662.4 447.9,673.0 447.0,664.4 438.3,654.0" fill="#70c81e" stroke="#70c81e" stroke-width="0.5"/><polygon points="447.9,673.0 456.7,683.6 455.8,674.8 447.0,664.4" fill="#70c81e" stroke="#70c81e" stroke-width="0.5"/><polygon points="456.7,683.6 465.7,683.6 464.6,674.8 455.8,674.8" fill="#70c81e" stroke="#70c81e" stroke-width="0.5"/><polygon points="465.7,683.6 474.5,696.7 473.2,687.8 464.6,674.8" fill="#70c81e" stroke="#70c81e" stroke-width="0.5"/><polygon points="474.5,696.7 483.5,696.8 482.1,687.8 473.2,687.8" fill="#70c81e" stroke="#70c81e" stroke-width="0.5"/><polygon points="483.5,696.8 492.5,696.8 491.0,687.8 482.1,687.8" fill="#70c81e" stroke="#70c81e" stroke-width="0.5"/><polygon points="492.5,696.8 501.5,696.8 499.8,687.9 491.0,687.8" fill="#70c81e" stroke="#70c81e" stroke-width="0.5"/><polygon points="501.5,696.8 510.5,696.8 508.7,687.9 499.8,687.9" fill="#70c81e" stroke="#70c81e" stroke-width="0.5"/><polygon points="510.5,696.8 518.9,720.3 516.9,711.0 508.7,687.9" fill="#70c81e" stroke="#70c81e" stroke-width="0.5"/><polygon points="178.7,719.0 187.0,695.7 195.9,695.7 204.9,695.7 213.9,695.8 222.9,695.8 231.6,682.7 240.6,682.8 249.4,672.3 258.3,661.8 267.3,661.8 276.1,643.3 285.1,643.3 294.2,643.4 303.2,632.8 312.0,592.6 321.1,592.6 330.3,592.6 339.4,592.6 348.5,592.7 357.7,592.7 366.8,592.7 376.0,592.8 385.1,592.8 394.0,633.1 403.0,643.7 412.0,643.8 421.1,643.8 429.9,662.4 439.0,662.4 447.9,673.0 456.7,683.6 465.7,683.6 474.5,696.7 483.5,696.8 492.5,696.8 501.5,696.8 510.5,696.8 518.9,720.3 518.9,720.3 178.7,719.0" fill="#8cf514" /><polyline points="178.7,719.0 187.0,695.7 195.9,695.7 204.9,695.7 213.9,695.8 222.9,695.8 231.6,682.7 240.6,682.8 249.4,672.3 258.3,661.8 267.3,661.8 276.1,643.3 285.1,643.3 294.2,643.4 303.2,632.8 312.0,592.6 321.1,592.6 330.3,592.6 339.4,592.6 348.5,592.7 357.7,592.7 366.8,592.7 376.0,592.8 385.1,592.8 394.0,633.1 403.0,643.7 412.0,643.8 421.1,643.8 429.9,662.4 439.0,662.4 447.9,673.0 456.7,683.6 465.7,683.6 474.5,696.7 483.5,696.8 492.5,696.8 501.5,696.8 510.5,696.8 518.9,720.3" fill="none" stroke="#70c81e" stroke-width="1.3" stroke-linejoin="round"/><clipPath id="z6c"><polygon points="178.7,719.0 187.0,695.7 195.9,695.7 204.9,695.7 213.9,695.8 222.9,695.8 231.6,682.7 240.6,682.8 249.4,672.3 258.3,661.8 267.3,661.8 276.1,643.3 285.1,643.3 294.2,643.4 303.2,632.8 312.0,592.6 321.1,592.6 330.3,592.6 339.4,592.6 348.5,592.7 357.7,592.7 366.8,592.7 376.0,592.8 385.1,592.8 394.0,633.1 403.0,643.7 412.0,643.8 421.1,643.8 429.9,662.4 439.0,662.4 447.9,673.0 456.7,683.6 465.7,683.6 474.5,696.7 483.5,696.8 492.5,696.8 501.5,696.8 510.5,696.8 518.9,720.3 518.9,720.3 178.7,719.0"/></clipPath><g clip-path="url(#z6c)"><polygon points="169.7,719.0 527.8,720.4 524.4,705.0 175.5,703.7" fill="#88ec2e" /><line x1="175.5" y1="703.7" x2="524.4" y2="705.0" stroke="#80e028" stroke-width="1"/><line x1="173.2" y1="709.8" x2="525.8" y2="711.1" stroke="#82e22a" stroke-width="1"/><line x1="169.7" y1="719.0" x2="527.8" y2="720.4" stroke="#7cc03c" stroke-width="1.2"/></g><polygon points="172.8,735.1 182.0,735.1 185.4,725.4 176.4,725.4" fill="#72c8b0" stroke="#72c8b0" stroke-width="0.5"/><polygon points="182.0,735.1 191.2,735.2 194.4,725.4 185.4,725.4" fill="#72c8b0" stroke="#72c8b0" stroke-width="0.5"/><polygon points="191.2,735.2 200.3,735.2 203.5,725.5 194.4,725.4" fill="#72c8b0" stroke="#72c8b0" stroke-width="0.5"/><polygon points="200.3,735.2 209.5,735.2 212.5,725.5 203.5,725.5" fill="#72c8b0" stroke="#72c8b0" stroke-width="0.5"/><polygon points="209.5,735.2 218.7,735.3 221.5,725.5 212.5,725.5" fill="#72c8b0" stroke="#72c8b0" stroke-width="0.5"/><polygon points="218.7,735.3 227.9,735.3 230.6,725.6 221.5,725.5" fill="#72c8b0" stroke="#72c8b0" stroke-width="0.5"/><polygon points="227.9,735.3 237.1,735.4 239.6,725.6 230.6,725.6" fill="#72c8b0" stroke="#72c8b0" stroke-width="0.5"/><polygon points="237.1,735.4 246.3,735.4 248.6,725.6 239.6,725.6" fill="#72c8b0" stroke="#72c8b0" stroke-width="0.5"/><polygon points="246.3,735.4 255.4,735.4 257.7,725.7 248.6,725.6" fill="#72c8b0" stroke="#72c8b0" stroke-width="0.5"/><polygon points="255.4,735.4 264.6,735.5 266.7,725.7 257.7,725.7" fill="#72c8b0" stroke="#72c8b0" stroke-width="0.5"/><polygon points="264.6,735.5 273.8,735.5 275.8,725.7 266.7,725.7" fill="#72c8b0" stroke="#72c8b0" stroke-width="0.5"/><polygon points="273.8,735.5 283.0,735.5 284.8,725.8 275.8,725.7" fill="#72c8b0" stroke="#72c8b0" stroke-width="0.5"/><polygon points="283.0,735.5 292.2,735.6 293.8,725.8 284.8,725.8" fill="#72c8b0" stroke="#72c8b0" stroke-width="0.5"/><polygon points="292.2,735.6 301.4,735.6 302.9,725.8 293.8,725.8" fill="#72c8b0" stroke="#72c8b0" stroke-width="0.5"/><polygon points="301.4,735.6 310.6,735.6 311.9,725.9 302.9,725.8" fill="#72c8b0" stroke="#72c8b0" stroke-width="0.5"/><polygon points="310.6,735.6 319.8,735.7 321.0,725.9 311.9,725.9" fill="#72c8b0" stroke="#72c8b0" stroke-width="0.5"/><polygon points="319.8,735.7 329.0,735.7 330.0,725.9 321.0,725.9" fill="#72c8b0" stroke="#72c8b0" stroke-width="0.5"/><polygon points="329.0,735.7 338.2,735.7 339.1,726.0 330.0,725.9" fill="#72c8b0" stroke="#72c8b0" stroke-width="0.5"/><polygon points="338.2,735.7 347.3,735.8 348.1,726.0 339.1,726.0" fill="#72c8b0" stroke="#72c8b0" stroke-width="0.5"/><polygon points="347.3,735.8 356.5,735.8 357.2,726.1 348.1,726.0" fill="#72c8b0" stroke="#72c8b0" stroke-width="0.5"/><polygon points="356.5,735.8 365.7,735.9 366.2,726.1 357.2,726.1" fill="#72c8b0" stroke="#72c8b0" stroke-width="0.5"/><polygon points="365.7,735.9 374.9,735.9 375.3,726.1 366.2,726.1" fill="#72c8b0" stroke="#72c8b0" stroke-width="0.5"/><polygon points="374.9,735.9 384.1,735.9 384.3,726.2 375.3,726.1" fill="#72c8b0" stroke="#72c8b0" stroke-width="0.5"/><polygon points="384.1,735.9 393.3,736.0 393.4,726.2 384.3,726.2" fill="#72c8b0" stroke="#72c8b0" stroke-width="0.5"/><polygon points="393.3,736.0 402.5,736.0 402.4,726.2 393.4,726.2" fill="#72c8b0" stroke="#72c8b0" stroke-width="0.5"/><polygon points="402.5,736.0 411.7,736.0 411.5,726.3 402.4,726.2" fill="#72c8b0" stroke="#72c8b0" stroke-width="0.5"/><polygon points="411.7,736.0 420.9,736.1 420.5,726.3 411.5,726.3" fill="#72c8b0" stroke="#72c8b0" stroke-width="0.5"/><polygon points="420.9,736.1 430.1,736.1 429.6,726.3 420.5,726.3" fill="#72c8b0" stroke="#72c8b0" stroke-width="0.5"/><polygon points="430.1,736.1 439.3,736.1 438.6,726.4 429.6,726.3" fill="#72c8b0" stroke="#72c8b0" stroke-width="0.5"/><polygon points="439.3,736.1 448.5,736.2 447.7,726.4 438.6,726.4" fill="#72c8b0" stroke="#72c8b0" stroke-width="0.5"/><polygon points="448.5,736.2 457.8,736.2 456.7,726.4 447.7,726.4" fill="#72c8b0" stroke="#72c8b0" stroke-width="0.5"/><polygon points="457.8,736.2 467.0,736.2 465.8,726.5 456.7,726.4" fill="#72c8b0" stroke="#72c8b0" stroke-width="0.5"/><polygon points="467.0,736.2 476.2,736.3 474.9,726.5 465.8,726.5" fill="#72c8b0" stroke="#72c8b0" stroke-width="0.5"/><polygon points="476.2,736.3 485.4,736.3 483.9,726.5 474.9,726.5" fill="#72c8b0" stroke="#72c8b0" stroke-width="0.5"/><polygon points="485.4,736.3 494.6,736.4 493.0,726.6 483.9,726.5" fill="#72c8b0" stroke="#72c8b0" stroke-width="0.5"/><polygon points="494.6,736.4 503.8,736.4 502.1,726.6 493.0,726.6" fill="#72c8b0" stroke="#72c8b0" stroke-width="0.5"/><polygon points="503.8,736.4 513.0,736.4 511.1,726.6 502.1,726.6" fill="#72c8b0" stroke="#72c8b0" stroke-width="0.5"/><polygon points="513.0,736.4 522.2,736.5 520.2,726.7 511.1,726.6" fill="#72c8b0" stroke="#72c8b0" stroke-width="0.5"/><line x1="254.7" y1="738.8" x2="262.3" y2="705.6" stroke="rgba(0,0,0,0.3)" stroke-width="1"/><line x1="262.3" y1="705.6" x2="268.0" y2="680.5" stroke="rgba(0,0,0,0.15)" stroke-width="1"/><line x1="347.1" y1="739.1" x2="349.7" y2="705.9" stroke="rgba(0,0,0,0.3)" stroke-width="1"/><line x1="349.7" y1="705.9" x2="351.6" y2="680.8" stroke="rgba(0,0,0,0.15)" stroke-width="1"/><line x1="439.6" y1="739.5" x2="437.2" y2="706.2" stroke="rgba(0,0,0,0.3)" stroke-width="1"/><line x1="437.2" y1="706.2" x2="435.4" y2="681.1" stroke="rgba(0,0,0,0.15)" stroke-width="1"/></svg>
<div class="yl3" style="top:453.0px;left:100.1px">100</div><div class="yl3" style="top:525.0px;left:102.80000000000001px">75</div><div class="yl3" style="top:596.0px;left:105.19999999999999px">50</div><div class="yl3" style="top:665.0px;left:107.80000000000001px">25</div><div class="yl3" style="top:732.0px;left:109.19999999999999px">0</div>
<div style="position:absolute;left:613px;top:373px;width:85px;height:108px;background:#fff"></div>
<div style="position:absolute;left:622px;top:379px;width:22px;height:9px;background:#b07860"></div><div class="t ar" style="left:649px;top:376px;font-size:11px;line-height:14px;color:#111">Zone 1</div><div style="position:absolute;left:622px;top:393px;width:22px;height:9px;background:#d87878"></div><div class="t ar" style="left:649px;top:390px;font-size:11px;line-height:14px;color:#111">Zone 2</div><div style="position:absolute;left:622px;top:407px;width:22px;height:9px;background:#ffd83c"></div><div class="t ar" style="left:649px;top:404px;font-size:11px;line-height:14px;color:#111">Zone 3</div><div style="position:absolute;left:622px;top:421px;width:22px;height:9px;background:#ff9c3c"></div><div class="t ar" style="left:649px;top:418px;font-size:11px;line-height:14px;color:#111">Zone 4</div><div style="position:absolute;left:622px;top:435px;width:22px;height:9px;background:#c0ff60"></div><div class="t ar" style="left:649px;top:432px;font-size:11px;line-height:14px;color:#111">Zone 5</div><div style="position:absolute;left:622px;top:449px;width:22px;height:9px;background:#a0ff40"></div><div class="t ar" style="left:649px;top:446px;font-size:11px;line-height:14px;color:#111">Zone 6</div><div style="position:absolute;left:622px;top:463px;width:22px;height:9px;background:#a0ffe0"></div><div class="t ar" style="left:649px;top:460px;font-size:11px;line-height:14px;color:#111">Zone 7</div>

<div class="t tah" style="left:40.7px;top:590px;width:100px;text-align:center;font-size:19.2px;font-weight:bold;line-height:24px;transform:rotate(-90deg);">Units</div>
<div class="t ar" style="left:161.5px;top:747.4px;font-size:11.8px;line-height:13px;transform:translateX(-50%) scaleX(0.93)">R1</div><div class="t ar" style="left:245px;top:747.4px;font-size:11.8px;line-height:13px;transform:translateX(-50%) scaleX(0.93)">R10</div><div class="t ar" style="left:337px;top:747.4px;font-size:11.8px;line-height:13px;transform:translateX(-50%) scaleX(0.93)">C20</div><div class="t ar" style="left:430px;top:747.4px;font-size:11.8px;line-height:13px;transform:translateX(-50%) scaleX(0.93)">L10</div><div class="t ar" style="left:512.5px;top:747.4px;font-size:11.8px;line-height:13px;transform:translateX(-50%) scaleX(0.93)">L1</div><div class="t ar" style="left:161.8px;top:768.4px;font-size:11.8px;line-height:13px;transform:translateX(-50%) scaleX(0.93)">1</div><div class="t ar" style="left:338px;top:768.4px;font-size:11.8px;line-height:13px;transform:translateX(-50%) scaleX(0.93)">20</div><div class="t ar" style="left:513px;top:768.4px;font-size:11.8px;line-height:13px;transform:translateX(-50%) scaleX(0.93)">39</div><div class="t ar" style="left:209px;top:780.4px;font-size:11.8px;line-height:13px;transform:translateX(-50%) scaleX(0.93)">10 pin</div><div class="t ar" style="left:475.5px;top:780.4px;font-size:11.8px;line-height:13px;transform:translateX(-50%) scaleX(0.93)">7 pin</div>
<div class="t tah" style="left:313.2px;top:802.3px;font-size:18.9px;font-weight:bold;line-height:24px">Boards</div>
<div class="info" style="top:849.2px">Volume: 29.4</div>
<div class="info" style="top:881.2px">Mode: Clean and Condition</div>
<div class="info" style="top:913.2px">Speed: Slow</div>
<div class="info" style="top:945.2px">Start Cleaner Spray: 0 feet</div>
<div class="info" style="top:977.2px">Start Squeegee: 0 feet</div>
<div class="info" style="top:1009.2px">Start Conditioning: 6 Inches</div>
<div class="info" style="top:1041.2px">Split Pattern: No</div>
<div class="zt" style="left:15px;top:1089px">
<div class="ln" style="top:12.1px"><span class="c0">Zone 1</span><span class="c1">Avg</span><span class="c2">Ratio</span></div>
<div class="ln" style="top:22.6px"><span class="c0">Left</span><span class="v1">1.40</span><span class="v2">2.42 : 1</span></div>
<div class="ln" style="top:33.1px"><span class="c0">Right</span><span class="v1">1.40</span><span class="v2">2.42 : 1</span></div>
<div class="ln" style="top:43.6px"><span class="c0">Center</span><span class="clipv"><span>100.00</span></span></div>
</div><div class="zt" style="left:161px;top:1089px">
<div class="ln" style="top:12.1px"><span class="c0">Zone 2</span><span class="c1">Avg</span><span class="c2">Ratio</span></div>
<div class="ln" style="top:22.6px"><span class="c0">Left</span><span class="v1">5.80</span><span class="v2">2.79 : 1</span></div>
<div class="ln" style="top:33.1px"><span class="c0">Right</span><span class="v1">5.80</span><span class="v2">2.79 : 1</span></div>
<div class="ln" style="top:43.6px"><span class="c0">Center</span><span class="clipv"><span>100.00</span></span></div>
</div><div class="zt" style="left:307px;top:1089px">
<div class="ln" style="top:12.1px"><span class="c0">Zone 3</span><span class="c1">Avg</span><span class="c2">Ratio</span></div>
<div class="ln" style="top:22.6px"><span class="c0">Left</span><span class="v1">9.60</span><span class="v2">3.38 : 1</span></div>
<div class="ln" style="top:33.1px"><span class="c0">Right</span><span class="v1">9.60</span><span class="v2">3.38 : 1</span></div>
<div class="ln" style="top:43.6px"><span class="c0">Center</span><span class="clipv"><span>100.00</span></span></div>
</div><div class="zt" style="left:453px;top:1089px">
<div class="ln" style="top:12.1px"><span class="c0">Zone 4</span><span class="c1">Avg</span><span class="c2">Ratio</span></div>
<div class="ln" style="top:22.6px"><span class="c0">Left</span><span class="v1">2.80</span><span class="v2">4.25 : 1</span></div>
<div class="ln" style="top:33.1px"><span class="c0">Right</span><span class="v1">2.80</span><span class="v2">4.25 : 1</span></div>
<div class="ln" style="top:43.6px"><span class="c0">Center</span><span class="v1">7.00</span></div>
</div><div class="zt" style="left:15px;top:1157px">
<div class="ln" style="top:12.1px"><span class="c0">Zone 5</span><span class="c1">Avg</span><span class="c2">Ratio</span></div>
<div class="ln" style="top:22.6px"><span class="c0">Left</span><span class="v1">6.40</span><span class="v2">5.91 : 1</span></div>
<div class="ln" style="top:33.1px"><span class="c0">Right</span><span class="v1">6.40</span><span class="v2">5.91 : 1</span></div>
<div class="ln" style="top:43.6px"><span class="c0">Center</span><span class="v1">7.00</span></div>
</div><div class="zt" style="left:161px;top:1157px">
<div class="ln" style="top:12.1px"><span class="c0">Zone 6</span><span class="c1">Avg</span><span class="c2">Ratio</span></div>
<div class="ln" style="top:22.6px"><span class="c0">Left</span><span class="v1">0.60</span><span class="v2">4.53 : 1</span></div>
<div class="ln" style="top:33.1px"><span class="c0">Right</span><span class="v1">0.60</span><span class="v2">4.53 : 1</span></div>
<div class="ln" style="top:43.6px"><span class="c0">Center</span><span class="v1">8.00</span></div>
</div><div class="zt" style="left:307px;top:1157px">
<div class="ln" style="top:12.1px"><span class="c0">Zone 7</span><span class="c1">Avg</span><span class="c2">Ratio</span></div>
<div class="ln" style="top:22.6px"><span class="c0">Left</span><span class="v1">0.00</span><span class="v2">1.00 : 1</span></div>
<div class="ln" style="top:33.1px"><span class="c0">Right</span><span class="v1">0.00</span><span class="v2">1.00 : 1</span></div>
<div class="ln" style="top:43.6px"><span class="c0">Center</span><span class="v1">0.00</span></div>
</div>
<div class="t ar" style="left:283px;top:1247.8px;font-size:21.9px;line-height:24px;color:#fff">Volume by Board</div>
<svg style="position:absolute;left:0;top:0" width="735" height="1612" viewBox="0 0 735 1612" shape-rendering="crispEdges"><rect x="107" y="1295" width="591" height="221" fill="#fff"/><rect x="107" y="1484" width="591" height="1" fill="#000"/><rect x="100" y="1484" width="7" height="1" fill="#000"/><rect x="107" y="1453" width="591" height="1" fill="#000"/><rect x="100" y="1453" width="7" height="1" fill="#000"/><rect x="107" y="1421" width="591" height="1" fill="#000"/><rect x="100" y="1421" width="7" height="1" fill="#000"/><rect x="107" y="1390" width="591" height="1" fill="#000"/><rect x="100" y="1390" width="7" height="1" fill="#000"/><rect x="107" y="1358" width="591" height="1" fill="#000"/><rect x="100" y="1358" width="7" height="1" fill="#000"/><rect x="107" y="1326" width="591" height="1" fill="#000"/><rect x="100" y="1326" width="7" height="1" fill="#000"/><rect x="100" y="1295" width="7" height="1" fill="#000"/><rect x="100" y="1516" width="7" height="1" fill="#000"/><rect x="255" y="1295" width="1" height="221" fill="#000"/><rect x="402" y="1295" width="1" height="221" fill="#000"/><rect x="550" y="1295" width="1" height="221" fill="#000"/><rect x="131.3" y="1468.6" width="11.6" height="47.4" fill="#4a8be8"/><rect x="146.0" y="1468.6" width="11.6" height="47.4" fill="#4a8be8"/><rect x="160.8" y="1460.7" width="11.6" height="55.3" fill="#4a8be8"/><rect x="175.5" y="1460.7" width="11.6" height="55.3" fill="#4a8be8"/><rect x="190.3" y="1460.7" width="11.6" height="55.3" fill="#4a8be8"/><rect x="205.1" y="1444.9" width="11.6" height="71.1" fill="#4a8be8"/><rect x="219.8" y="1444.9" width="11.6" height="71.1" fill="#4a8be8"/><rect x="234.6" y="1421.2" width="11.6" height="94.8" fill="#4a8be8"/><rect x="249.3" y="1397.5" width="11.6" height="118.5" fill="#4a8be8"/><rect x="264.1" y="1397.5" width="11.6" height="118.5" fill="#4a8be8"/><rect x="278.9" y="1373.8" width="11.6" height="142.2" fill="#4a8be8"/><rect x="293.6" y="1350.1" width="11.6" height="165.9" fill="#4a8be8"/><rect x="308.4" y="1350.1" width="11.6" height="165.9" fill="#4a8be8"/><rect x="323.1" y="1326.4" width="11.6" height="189.6" fill="#4a8be8"/><rect x="337.9" y="1310.6" width="11.6" height="205.4" fill="#4a8be8"/><rect x="352.7" y="1310.6" width="11.6" height="205.4" fill="#4a8be8"/><rect x="367.4" y="1310.6" width="11.6" height="205.4" fill="#4a8be8"/><rect x="382.2" y="1310.6" width="11.6" height="205.4" fill="#4a8be8"/><rect x="396.9" y="1310.6" width="11.6" height="205.4" fill="#4a8be8"/><rect x="411.7" y="1310.6" width="11.6" height="205.4" fill="#4a8be8"/><rect x="426.5" y="1310.6" width="11.6" height="205.4" fill="#4a8be8"/><rect x="441.2" y="1310.6" width="11.6" height="205.4" fill="#4a8be8"/><rect x="456.0" y="1310.6" width="11.6" height="205.4" fill="#4a8be8"/><rect x="470.7" y="1326.4" width="11.6" height="189.6" fill="#4a8be8"/><rect x="485.5" y="1350.1" width="11.6" height="165.9" fill="#4a8be8"/><rect x="500.3" y="1350.1" width="11.6" height="165.9" fill="#4a8be8"/><rect x="515.0" y="1373.8" width="11.6" height="142.2" fill="#4a8be8"/><rect x="529.8" y="1397.5" width="11.6" height="118.5" fill="#4a8be8"/><rect x="544.5" y="1397.5" width="11.6" height="118.5" fill="#4a8be8"/><rect x="559.3" y="1421.2" width="11.6" height="94.8" fill="#4a8be8"/><rect x="574.1" y="1444.9" width="11.6" height="71.1" fill="#4a8be8"/><rect x="588.8" y="1444.9" width="11.6" height="71.1" fill="#4a8be8"/><rect x="603.6" y="1460.7" width="11.6" height="55.3" fill="#4a8be8"/><rect x="618.3" y="1460.7" width="11.6" height="55.3" fill="#4a8be8"/><rect x="633.1" y="1460.7" width="11.6" height="55.3" fill="#4a8be8"/><rect x="647.9" y="1468.6" width="11.6" height="47.4" fill="#4a8be8"/><rect x="662.6" y="1468.6" width="11.6" height="47.4" fill="#4a8be8"/><rect x="107" y="1295" width="591" height="1" fill="#000"/><rect x="107" y="1295" width="1" height="221" fill="#000"/><rect x="698" y="1295" width="1" height="221" fill="#000"/><rect x="107" y="1516" width="592" height="1" fill="#000"/><rect x="107" y="1516" width="1" height="6" fill="#000"/><rect x="255" y="1516" width="1" height="6" fill="#000"/><rect x="402" y="1516" width="1" height="6" fill="#000"/><rect x="550" y="1516" width="1" height="6" fill="#000"/><rect x="698" y="1516" width="1" height="6" fill="#000"/></svg>
<div class="yl" style="top:1508.0px">0</div><div class="yl" style="top:1476.4px">0.2</div><div class="yl" style="top:1444.8px">0.4</div><div class="yl" style="top:1413.2px">0.6</div><div class="yl" style="top:1381.6px">0.8</div><div class="yl" style="top:1350.0px">1</div><div class="yl" style="top:1318.4px">1.2</div><div class="yl" style="top:1286.8px">1.4</div>

<div class="t tah" style="left:-17.2px;top:1393.4px;width:140px;text-align:center;font-size:19.7px;font-weight:bold;line-height:25px;transform:rotate(-90deg);">Volume (mL)</div>
<div class="t ar" style="left:402.5px;top:1522px;font-size:12px;line-height:14px;transform:translateX(-50%)">Boards</div><div class="t ar" style="left:121.8px;top:1546px;font-size:12px;line-height:14px;transform:translateX(-50%)">L1</div><div class="t ar" style="left:254.5px;top:1546px;font-size:12px;line-height:14px;transform:translateX(-50%)">L10</div><div class="t ar" style="left:402px;top:1546px;font-size:12px;line-height:14px;transform:translateX(-50%)">C20</div><div class="t ar" style="left:550px;top:1546px;font-size:12px;line-height:14px;transform:translateX(-50%)">R10</div><div class="t ar" style="left:683px;top:1546px;font-size:12px;line-height:14px;transform:translateX(-50%)">R1</div><div class="t ar" style="left:195.6px;top:1561px;font-size:12px;line-height:14px;transform:translateX(-50%)">3L - 7L : 18L - 18 R</div><div class="t ar" style="left:195.6px;top:1576px;font-size:12px;line-height:14px;transform:translateX(-50%)">3.61</div><div class="t ar" style="left:410.3px;top:1561px;font-size:12px;line-height:14px;transform:translateX(-50%)">Ratio by Total Volume</div><div class="t ar" style="left:625px;top:1561px;font-size:12px;line-height:14px;transform:translateX(-50%)">18L - 18 R : 7R - 3R</div><div class="t ar" style="left:623px;top:1576px;font-size:12px;line-height:14px;transform:translateX(-50%)">3.61</div>
</body></html>
